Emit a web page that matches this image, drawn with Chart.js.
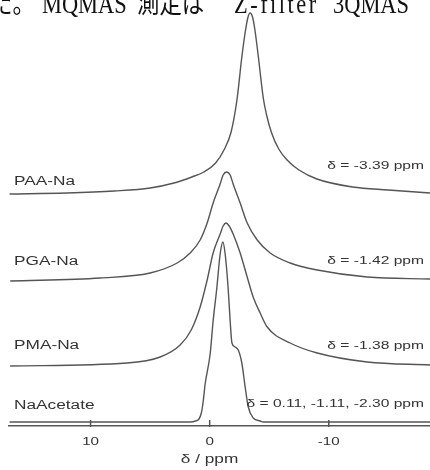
<!DOCTYPE html>
<html>
<head>
<meta charset="utf-8">
<script src="https://cdn.jsdelivr.net/npm/chart.js@4.4.1/dist/chart.umd.min.js"></script>
<style>
  html, body { margin: 0; padding: 0; background: #fff; overflow: hidden; }
  #wrap { position: relative; width: 430px; height: 470px; }
  #head span {
    position: absolute; top: -9px; white-space: nowrap;
    font: 27px/27px 'Liberation Serif', 'Noto Sans CJK JP', serif; color: #111;
    transform: scaleX(0.83); transform-origin: left top;
  }
  canvas { position: absolute; left: 0; top: 0; }
</style>
</head>
<body>
<div id="wrap">
  <canvas id="nmr" width="430" height="470"></canvas>
  <div id="head"><span style="left:-10px">た。</span><span style="left:42px">MQMAS</span><span style="left:137px">測定は</span><span style="left:234px;letter-spacing:3px">Z-filter</span><span style="left:333px">3QMAS</span></div>
</div>
<script>
// 23Na MAS spectra (ppm, intensity above own baseline)
const spectrumNames = ['PAA-Na', 'PGA-Na', 'PMA-Na', 'NaAcetate'];
const shiftLabels = ['δ = -3.39 ppm', 'δ = -1.42 ppm', 'δ = -1.38 ppm', 'δ = 0.11, -1.11, -2.30 ppm'];
const baselineOffsets = [233, 145, 60, 4];
const ppmTicks = [10, 0, -10];

const paaPpm = [16.8, 12, 8, 5, 3, 1.5, 0.5, -0.5, -1.2, -1.8, -2.3, -2.7, -3.0, -3.2, -3.39, -3.6, -3.8, -4.1, -4.5, -4.8, -5.2, -5.8, -6.5, -7.5, -9, -12, -15, -18.5];
const paaInt = [-1, 0, 2, 5, 10, 16, 21, 30, 43, 61, 94, 136, 162, 175, 180, 176, 163, 135, 95, 77, 60, 44, 33, 23, 14, 6, 3, 0];

const pgaPpm = [16.75, 9.19, 5.0, 2.73, 1.64, 0.8, 0.21, -0.29, -0.88, -1.13, -1.42, -1.72, -1.97, -2.56, -3.15, -3.99, -5.08, -6.76, -9.03, -13.23, -18.5];
const pgaInt = [0, 3, 8, 18, 28, 41, 58, 78, 97, 106, 109, 106, 97, 78, 58, 41, 28, 18, 11, 4, 2];

const pmaPpm = [16.75, 6.93, 4.16, 2.48, 1.55, 0.8, 0.21, -0.29, -0.88, -1.13, -1.38, -1.64, -1.97, -2.56, -3.15, -3.65, -4.24, -4.83, -6.76, -9.03, -13.23, -18.5];
const pmaInt = [0, 3, 9, 21, 36, 59, 86, 113, 132, 140, 143, 140, 132, 113, 89, 69, 53, 39, 23, 13, 4, 1];

const acePpm = [16.8, 5, 2.5, 1.6, 1.2, 0.9, 0.7, 0.55, 0.38, -0.04, -0.29, -0.6, -0.88, -1.11, -1.3, -1.55, -1.72, -1.87, -2.14, -2.4, -2.7, -2.98, -3.24, -3.66, -4.24, -4.5, -10, -18.5];
const aceInt = [0, 0, 0, 0, 1, 3, 9, 20, 38, 68, 101, 134, 168, 180, 168, 134, 101, 79, 75, 72, 59, 35, 15, 4, 1, 0, 0, 0];

const spectra = [[paaPpm, paaInt], [pgaPpm, pgaInt], [pmaPpm, pmaInt], [acePpm, aceInt]];

const lineColor = '#555';
const textColor = '#333';
const stretch = 1.38; // the figure text is horizontally widened

function stretchedText(ctx, text, x, y, size, align) {
  ctx.save();
  ctx.font = size + 'px "Liberation Sans", Arial, sans-serif';
  ctx.fillStyle = textColor;
  ctx.textBaseline = 'middle';
  const w = ctx.measureText(text).width * stretch;
  let left = x;
  if (align === 'right') left = x - w;
  if (align === 'center') left = x - w / 2;
  ctx.translate(left, y);
  ctx.scale(stretch, 1);
  ctx.textAlign = 'left';
  ctx.fillText(text, 0, 0);
  ctx.restore();
}

// labels, tick marks and tick labels
const labelsPlugin = {
  id: 'nmrLabels',
  afterDraw(chart) {
    const ctx = chart.ctx;
    const xs = chart.scales.x;
    const ys = chart.scales.y;
    const nameDy = [11, 19, 20, 16];
    const shiftDy = [27, 20, 20, 18];
    spectrumNames.forEach((name, i) => {
      const base = ys.getPixelForValue(baselineOffsets[i]);
      stretchedText(ctx, name, 14, base - nameDy[i], 12.5, 'left');
      stretchedText(ctx, shiftLabels[i], 424, base - shiftDy[i], 11.3, 'right');
    });
    const axisY = chart.chartArea.bottom;
    ctx.save();
    ctx.strokeStyle = lineColor;
    ctx.lineWidth = 1.5;
    xs.ticks.forEach(t => {
      const px = xs.getPixelForValue(t.value);
      ctx.beginPath();
      ctx.moveTo(px, axisY - 6);
      ctx.lineTo(px, axisY + 1);
      ctx.stroke();
      stretchedText(ctx, String(t.value), px, axisY + 16, 11, 'center');
    });
    ctx.restore();
    stretchedText(ctx, 'δ / ppm', (chart.chartArea.left + chart.chartArea.right) / 2 - 10, axisY + 34, 12.5, 'center');
  }
};

const ctx = document.getElementById('nmr').getContext('2d');
const nmrChart = new Chart(ctx, {
  type: 'line',
  data: {
    datasets: spectra.map((s, i) => ({
      label: spectrumNames[i],
      data: s[0].map((p, j) => ({ x: p, y: s[1][j] + baselineOffsets[i] })),
      borderColor: lineColor,
      borderWidth: 1.4,
      pointRadius: 0,
      fill: false,
      cubicInterpolationMode: 'monotone',
    })),
  },
  options: {
    responsive: false,
    animation: false,
    layout: { padding: { left: 9, right: 0, top: 0, bottom: 0 } },
    scales: {
      x: {
        type: 'linear',
        reverse: true,
        min: -18.5,
        max: 16.85,
        afterBuildTicks: scale => { scale.ticks = ppmTicks.map(v => ({ value: v })); },
        afterFit: scale => { scale.height = 44; },
        ticks: { display: false },
        grid: { display: false },
        border: { display: true, color: lineColor, width: 1.6 },
      },
      y: {
        display: false,
        min: 0,
        max: 426,
      },
    },
    plugins: {
      legend: { display: false },
      tooltip: { enabled: false },
    },
  },
  plugins: [labelsPlugin],
});
</script>
</body>
</html>
